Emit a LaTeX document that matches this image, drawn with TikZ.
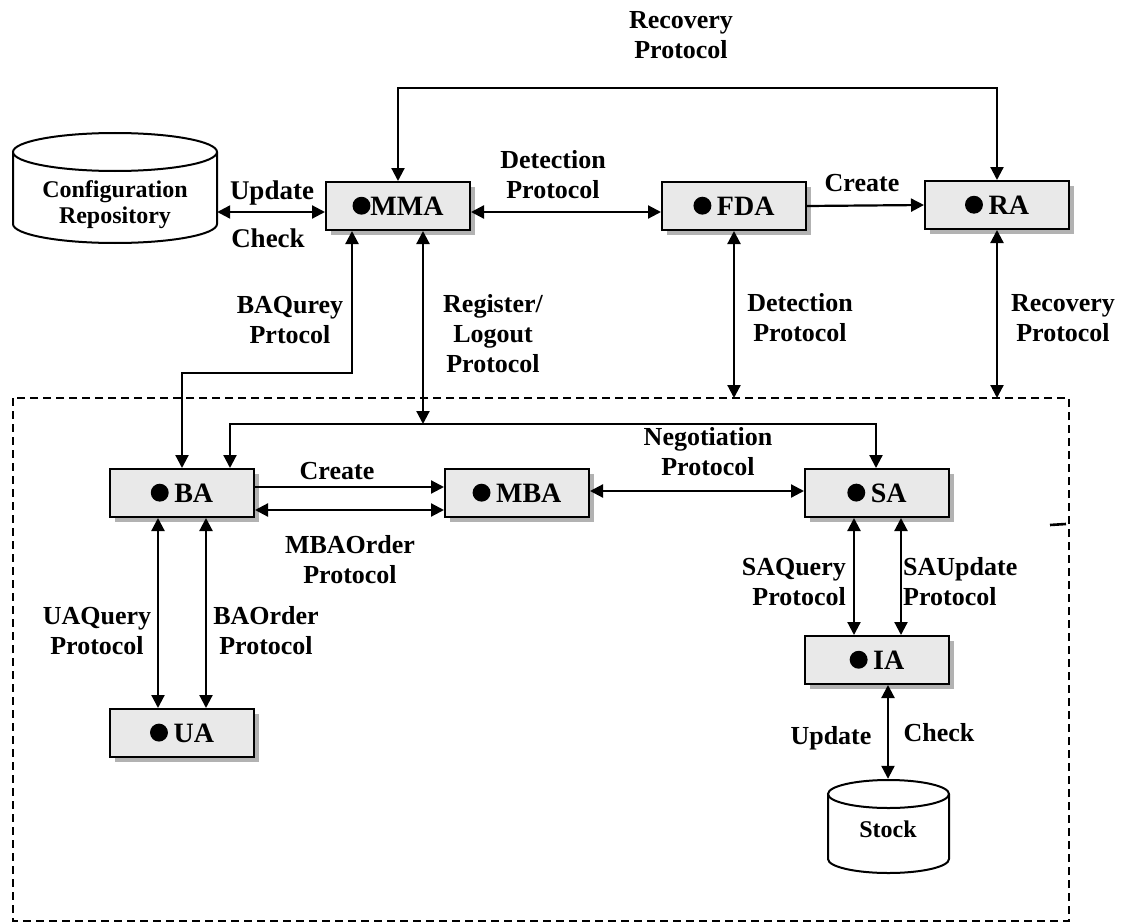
\documentclass[tikz,border=0pt]{standalone}
\usepackage{fontspec}
\setmainfont{Liberation Serif}
\usetikzlibrary{arrows.meta,shadows,calc}

% filled dot placed before each agent name
\newcommand\agentdot{\tikz[baseline=-0.34em]\fill[black] (0,0) circle (0.32em);}

\begin{document}
\begin{tikzpicture}[x=1pt,y=-1pt,
  agent/.style={draw=black, line width=2pt, fill=gray!17,
    minimum width=144pt, minimum height=48pt, inner sep=0pt,
    font=\fontsize{28}{30}\selectfont\bfseries,
    drop shadow={shadow xshift=5pt, shadow yshift=-5pt, fill=gray!60, opacity=1}},
  lbl/.style={align=center, inner sep=0pt, font=\fontsize{26}{30}\selectfont\bfseries},
  dblbl/.style={align=center, inner sep=0pt, font=\fontsize{24}{26}\selectfont\bfseries},
  dbshape/.style={draw=black, line width=2pt, fill=white},
  tip/.tip={Triangle[length=13pt,width=13pt]},
  link/.style={line width=2.2pt, -tip},
  both/.style={line width=2.2pt, tip-tip},
  region/.style={draw=black, line width=1.5pt, dash pattern=on 8pt off 5pt},
]
\useasboundingbox (0,0) rectangle (1135,923);

% guide coordinates for the routed connectors
\coordinate (rtop) at (0,88);
\coordinate (upd) at (0,212);
\coordinate (bq) at (352,373);
\coordinate (rg) at (423,424);
\coordinate (nl) at (230,424);
\coordinate (nr) at (876,424);
\coordinate (dtop) at (0,398);

% dashed region holding the marketplace agents
\draw[region] (13,398) rectangle (1069,921);
\draw[line width=2.6pt] (1050,525) -- (1066,524);

% configuration repository (cylinder)
\draw[dbshape] (13,152) -- (13,224) arc[start angle=180, end angle=0, x radius=102, y radius=19] -- (217,152);
\draw[dbshape] (115,152) ellipse [x radius=102, y radius=19];
\node[dblbl, minimum width=204pt] (repo) at (115,205) {Configuration\\Repository};

% stock database (cylinder)
\draw[dbshape] (828,794) -- (828,859) arc[start angle=180, end angle=0, x radius=60.5, y radius=14] -- (949,794);
\draw[dbshape] (888.5,794) ellipse [x radius=60.5, y radius=14];
\node[dblbl, minimum width=121pt, minimum height=100pt] (stock) at (888,829) {Stock};

% agents
\node[agent] (MMA) at (398,206) {\agentdot MMA};
\node[agent] (FDA) at (734,206) {\agentdot\hspace{0.2em}FDA};
\node[agent] (RA)  at (997,205) {\agentdot\hspace{0.2em}RA};
\node[agent] (BA)  at (182,493) {\agentdot\hspace{0.2em}BA};
\node[agent] (MBA) at (517,493) {\agentdot\hspace{0.2em}MBA};
\node[agent] (SA)  at (877,493) {\agentdot\hspace{0.2em}SA};
\node[agent] (IA)  at (877,660) {\agentdot\hspace{0.2em}IA};
\node[agent] (UA)  at (182,733) {\agentdot\hspace{0.2em}UA};

% connectors
\draw[both] (MMA.north) -- (MMA.north |- rtop) -| (RA.north);
\draw[both] (repo.east |- upd) -- (MMA.west |- upd);
\draw[both] (MMA.east |- upd) -- (FDA.west |- upd);
\draw[link] (FDA.east) -- (RA.west);
\draw[both] (MMA.south -| bq) -- (bq) -| (BA.north);
\draw[both] (MMA.south -| rg) -- (rg);
\draw[both] (BA.north -| nl) -- (nl) -- (nr) -- (SA.north -| nr);
\draw[both] (FDA.south) -- (FDA.south |- dtop);
\draw[both] (RA.south) -- (RA.south |- dtop);
\draw[link] ($(BA.east)+(0,-6)$) -- ($(MBA.west)+(0,-6)$);
\draw[both] ($(BA.east)+(0,17)$) -- ($(MBA.west)+(0,17)$);
\draw[both] ($(MBA.east)+(0,-2)$) -- ($(SA.west)+(0,-2)$);
\draw[both] ($(BA.south)+(-24,0)$) -- ($(UA.north)+(-24,0)$);
\draw[both] ($(BA.south)+(24,0)$) -- ($(UA.north)+(24,0)$);
\draw[both] ($(SA.south)+(-23,0)$) -- ($(IA.north)+(-23,0)$);
\draw[both] ($(SA.south)+(24,0)$) -- ($(IA.north)+(24,0)$);
\draw[both] (IA.south -| stock.north) -- (stock.north);

% connector labels
\node[lbl] (l-rec)  at (681,35)  {Recovery\\Protocol};
\node[lbl, font=\fontsize{27}{30}\selectfont\bfseries] (l-upd) at (272,193) {Update};
\node[lbl, font=\fontsize{27}{30}\selectfont\bfseries] (l-chk) at (268,238) {Check};
\node[lbl] (l-det)  at (553,175) {Detection\\Protocol};
\node[lbl] (l-cre1) at (862,183) {Create};
\node[lbl] (l-bq)   at (290,320) {BAQurey\\Prtocol};
\node[lbl] (l-reg)  at (493,334) {Register/\\Logout\\Protocol};
\node[lbl] (l-det2) at (800,318) {Detection\\Protocol};
\node[lbl] (l-rec2) at (1063,318) {Recovery\\Protocol};
\node[lbl] (l-neg)  at (708,452) {Negotiation\\Protocol};
\node[lbl] (l-cre2) at (337,471) {Create};
\node[lbl] (l-mbo)  at (350,560) {MBAOrder\\Protocol};
\node[lbl] (l-uaq)  at (97,631)  {UAQuery\\Protocol};
\node[lbl] (l-bao)  at (266,631) {BAOrder\\Protocol};
\node[lbl, align=right, anchor=east] (l-saq) at (846,582) {SAQuery\\Protocol};
\node[lbl, align=left, anchor=west] (l-sau) at (903,582) {SAUpdate\\Protocol};
\node[lbl, font=\fontsize{26}{30}\selectfont\bfseries] (l-upd2) at (831,738) {Update};
\node[lbl, font=\fontsize{26}{30}\selectfont\bfseries] (l-chk2) at (939,733) {Check};
\end{tikzpicture}
\end{document}
